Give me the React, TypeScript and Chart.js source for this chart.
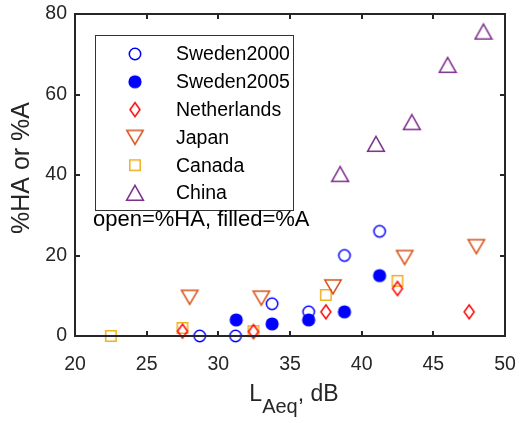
import React, { useEffect, useRef } from "react";
import { Chart, registerables } from "chart.js";

Chart.register(...registerables);

const FONT = '"Liberation Sans", Arial, Helvetica, sans-serif';
const AXIS_COLOR = "#262626";

// Data (x = LAeq dB, y = percent)
const sweden2000X = [28.7, 31.2, 33.75, 36.3, 38.8, 41.25];
const sweden2000Y = [0, 0, 8, 6, 20, 26];
const sweden2005X = [31.25, 33.75, 36.3, 38.8, 41.25];
const sweden2005Y = [4, 3, 4, 6, 15];
const netherlandsX = [27.5, 32.45, 37.5, 42.5, 47.5];
const netherlandsY = [1.2, 1.1, 6, 11.8, 6];
const japanX = [28.0, 33.0, 38.0, 43.0, 48.0];
const japanY = [9.6, 9.4, 12.2, 19.5, 22.2];
const canadaX = [22.5, 27.5, 32.45, 37.5, 42.5];
const canadaY = [0, 2, 1.2, 10.2, 13.7];
const chinaX = [38.5, 41.0, 43.5, 46.0, 48.5];
const chinaY = [40.2, 47.7, 53.1, 67.3, 75.6];

const seriesLabels = ["Sweden2000", "Sweden2005", "Netherlands", "Japan", "Canada", "China"];
const seriesColors = ["#0000FF", "#0000FF", "#FF0000", "#D95319", "#EDB120", "#7E2F8E"];
const seriesMarkers = ["circle", "disc", "diamond", "triDown", "square", "triUp"];

const xTickMin = 20;
const xTickMax = 50;
const xTickStep = 5;
const yTickMin = 0;
const yTickMax = 80;
const yTickStep = 20;

const yTitle = "%HA or %A";
const xTitleMain = "L";
const xTitleSub = "Aeq";
const xTitleRest = ", dB";
const noteText = "open=%HA, filled=%A";

function makeMarker(kind: string, color: string): HTMLCanvasElement {
  const c = document.createElement("canvas");
  c.width = 20;
  c.height = 20;
  const g = c.getContext("2d")!;
  g.lineWidth = 1.5;
  g.strokeStyle = color;
  g.fillStyle = color;
  g.beginPath();
  switch (kind) {
    case "circle":
      g.arc(10, 10, 5.7, 0, Math.PI * 2);
      g.stroke();
      break;
    case "disc":
      g.arc(10, 10, 6.6, 0, Math.PI * 2);
      g.fill();
      break;
    case "diamond":
      g.moveTo(10, 3);
      g.lineTo(15, 10);
      g.lineTo(10, 17);
      g.lineTo(5, 10);
      g.closePath();
      g.stroke();
      break;
    case "triDown":
      g.moveTo(1.8, 3);
      g.lineTo(18.2, 3);
      g.lineTo(10, 17);
      g.closePath();
      g.stroke();
      break;
    case "square":
      g.rect(4.8, 4.8, 10.4, 10.4);
      g.stroke();
      break;
    case "triUp":
      g.moveTo(10, 2.4);
      g.lineTo(18.4, 17.3);
      g.lineTo(1.6, 17.3);
      g.closePath();
      g.stroke();
      break;
  }
  return c;
}

const framePlugin = {
  id: "frameTicks",
  afterDatasetsDraw(chart: any) {
    const { ctx, chartArea, scales } = chart;
    const { left, right, top, bottom } = chartArea;
    ctx.save();
    ctx.strokeStyle = AXIS_COLOR;
    ctx.lineWidth = 2;
    ctx.strokeRect(left, top, right - left, bottom - top);
    const tl = 5;
    ctx.beginPath();
    scales.x.ticks.forEach((t: any) => {
      const px = Math.round(scales.x.getPixelForValue(t.value));
      ctx.moveTo(px, bottom);
      ctx.lineTo(px, bottom - tl);
      ctx.moveTo(px, top);
      ctx.lineTo(px, top + tl);
    });
    scales.y.ticks.forEach((t: any) => {
      const py = Math.round(scales.y.getPixelForValue(t.value));
      ctx.moveTo(left, py);
      ctx.lineTo(left + tl, py);
      ctx.moveTo(right, py);
      ctx.lineTo(right - tl, py);
    });
    ctx.stroke();
    ctx.restore();
  },
  afterDraw(chart: any) {
    const { ctx, chartArea } = chart;
    ctx.save();
    // Legend box
    const lx = 95, ly = 35, lw = 198, lh = 175;
    ctx.fillStyle = "#ffffff";
    ctx.fillRect(lx, ly, lw, lh);
    ctx.strokeStyle = "#333333";
    ctx.lineWidth = 1;
    ctx.strokeRect(lx + 0.5, ly + 0.5, lw, lh);
    ctx.font = `19.5px ${FONT}`;
    ctx.fillStyle = "#000000";
    ctx.textBaseline = "middle";
    ctx.textAlign = "left";
    chart.data.datasets.forEach((ds: any, i: number) => {
      const rowY = 54 + i * 27.8;
      const img = ds.pointStyle as HTMLCanvasElement;
      ctx.drawImage(img, 135 - img.width / 2, rowY - img.height / 2);
      ctx.fillText(ds.label, 176, rowY + 1);
    });
    // Note text
    ctx.font = `22px ${FONT}`;
    ctx.fillText(noteText, 93, 220);
    // Y title
    ctx.save();
    ctx.translate(22, 168);
    ctx.rotate(-Math.PI / 2);
    ctx.textAlign = "center";
    ctx.textBaseline = "middle";
    ctx.font = `25px ${FONT}`;
    ctx.fillStyle = AXIS_COLOR;
    ctx.fillText(yTitle, 0, 0);
    ctx.restore();
    // X title with subscript
    ctx.fillStyle = AXIS_COLOR;
    ctx.textBaseline = "alphabetic";
    ctx.textAlign = "left";
    const mainFont = `23px ${FONT}`;
    const subFont = `20px ${FONT}`;
    ctx.font = mainFont;
    const wMain = ctx.measureText(xTitleMain).width;
    const wRest = ctx.measureText(xTitleRest).width;
    ctx.font = subFont;
    const wSub = ctx.measureText(xTitleSub).width;
    const total = wMain + wSub + wRest;
    const cx = (chartArea.left + chartArea.right) / 2 + 4;
    let x0 = cx - total / 2;
    const baseY = 401;
    ctx.font = mainFont;
    ctx.fillText(xTitleMain, x0, baseY);
    x0 += wMain;
    ctx.font = subFont;
    ctx.fillText(xTitleSub, x0, baseY + 12);
    x0 += wSub;
    ctx.font = mainFont;
    ctx.fillText(xTitleRest, x0, baseY);
    ctx.restore();
  },
};

export default function App() {
  const ref = useRef<HTMLCanvasElement | null>(null);
  useEffect(() => {
    if (!ref.current) return;
    const xs = [sweden2000X, sweden2005X, netherlandsX, japanX, canadaX, chinaX];
    const ys = [sweden2000Y, sweden2005Y, netherlandsY, japanY, canadaY, chinaY];
    const datasets = seriesLabels.map((label, i) => {
      const img = makeMarker(seriesMarkers[i], seriesColors[i]);
      return {
        label,
        data: xs[i].map((x, j) => ({ x, y: ys[i][j] })),
        pointStyle: img,
        pointRadius: 8,
        borderColor: seriesColors[i],
        backgroundColor: seriesColors[i],
        showLine: false,
        clip: false as any,
      };
    });
    const tickFont = { family: FONT, size: 19.5 };
    const chart = new Chart(ref.current, {
      type: "scatter",
      data: { datasets },
      options: {
        animation: false,
        responsive: false,
        layout: { padding: { left: 0, right: 19, top: 14, bottom: 0 } },
        plugins: { legend: { display: false }, tooltip: { enabled: false } },
        scales: {
          x: {
            type: "linear",
            min: xTickMin,
            max: xTickMax,
            ticks: { stepSize: xTickStep, font: tickFont, color: AXIS_COLOR, padding: 0, maxRotation: 0 },
            grid: { display: false, drawTicks: true, tickLength: 17 },
            border: { display: false },
            afterFit: (s: any) => {
              s.height = 87;
            },
          },
          y: {
            type: "linear",
            min: yTickMin,
            max: yTickMax,
            ticks: { stepSize: yTickStep, font: tickFont, color: AXIS_COLOR, padding: 0 },
            grid: { display: false, drawTicks: true, tickLength: 8 },
            border: { display: false },
            afterFit: (s: any) => {
              s.width = 75;
            },
          },
        },
      },
      plugins: [framePlugin],
    });
    return () => chart.destroy();
  }, []);
  return (
    <div style={{ position: "fixed", left: 0, top: 0, width: 524, height: 423, background: "#fff" }}>
      <canvas ref={ref} width={524} height={423} style={{ display: "block" }} />
    </div>
  );
}
